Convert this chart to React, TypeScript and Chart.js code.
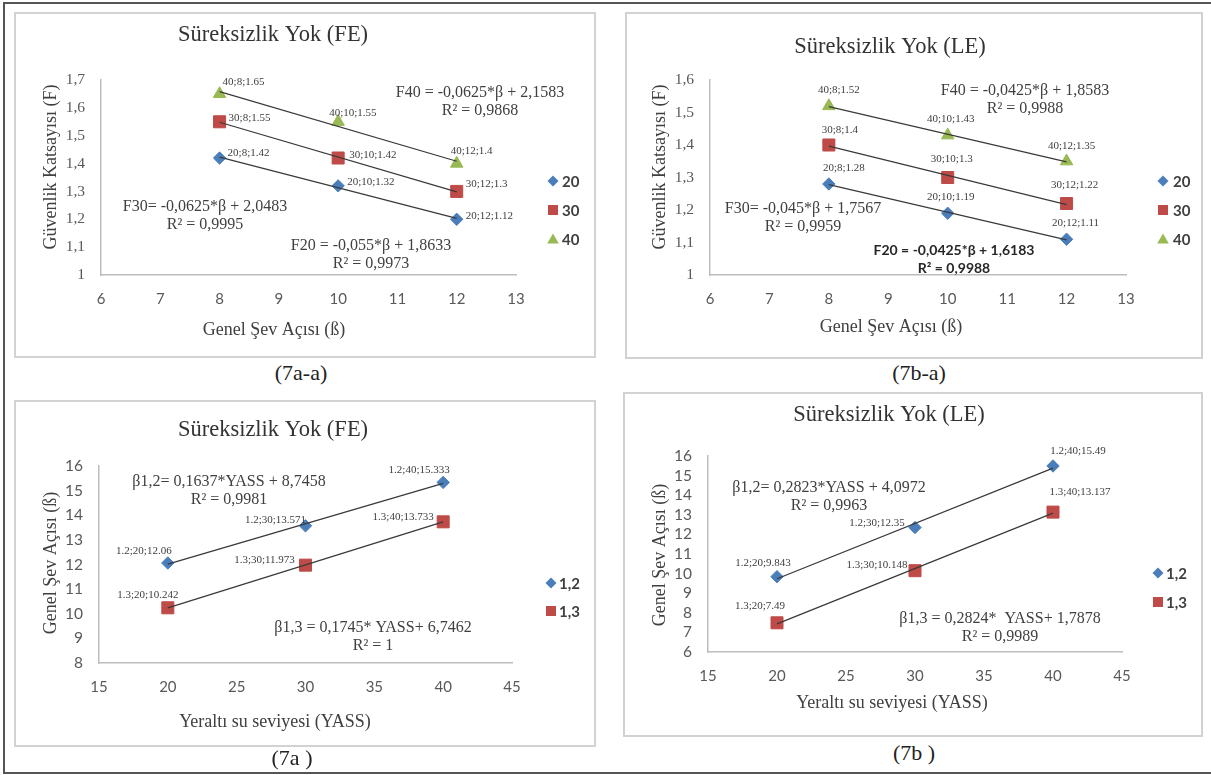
import React, { useEffect, useRef } from "react";
import { Chart, registerables } from "chart.js";

Chart.register(...registerables);

const SERIF = "'Liberation Serif', 'Times New Roman', serif";
const SANS = "Lato, 'Liberation Sans', Arial, sans-serif";

// ---------------- data ----------------
const slopeAngles = [8, 10, 12];
const feSafety20 = [1.42, 1.32, 1.2];
const feSafety30 = [1.55, 1.42, 1.3];
const feSafety40 = [1.65, 1.55, 1.4];
const feSafetyLabels20 = ["20;8;1.42", "20;10;1.32", "20;12;1.12"];
const feSafetyLabels30 = ["30;8;1.55", "30;10;1.42", "30;12;1.3"];
const feSafetyLabels40 = ["40;8;1.65", "40;10;1.55", "40;12;1.4"];

const leSafety20 = [1.28, 1.19, 1.11];
const leSafety30 = [1.4, 1.3, 1.22];
const leSafety40 = [1.52, 1.43, 1.35];
const leSafetyLabels20 = ["20;8;1.28", "20;10;1.19", "20;12;1.11"];
const leSafetyLabels30 = ["30;8;1.4", "30;10;1.3", "30;12;1.22"];
const leSafetyLabels40 = ["40;8;1.52", "40;10;1.43", "40;12;1.35"];

const waterLevels = [20, 30, 40];
const feAngle12 = [12.06, 13.571, 15.333];
const feAngle13 = [10.242, 11.973, 13.733];
const feAngleLabels12 = ["1.2;20;12.06", "1.2;30;13.571", "1.2;40;15.333"];
const feAngleLabels13 = ["1.3;20;10.242", "1.3;30;11.973", "1.3;40;13.733"];
const leAngle12 = [9.843, 12.35, 15.49];
const leAngle13 = [7.49, 10.148, 13.137];
const leAngleLabels12 = ["1.2;20;9.843", "1.2;30;12.35", "1.2;40;15.49"];
const leAngleLabels13 = ["1.3;20;7.49", "1.3;30;10.148", "1.3;40;13.137"];

const groupNamesF = ["20", "30", "40"];
const groupNamesB = ["1,2", "1,3"];

const titleFE = "Süreksizlik Yok (FE)";
const titleLE = "Süreksizlik Yok (LE)";
const xTitleAngle = "Genel Şev Açısı (ß)";
const yTitleSafety = "Güvenlik Katsayısı (F)";
const xTitleWater = "Yeraltı su seviyesi (YASS)";
const yTitleAngle = "Genel Şev Açısı (ß)";

const eqFE = [
  ["F40 = -0,0625*β + 2,1583", "R² = 0,9868"],
  ["F30= -0,0625*β + 2,0483", "R² = 0,9995"],
  ["F20 = -0,055*β + 1,8633", "R² = 0,9973"],
];
const eqLE = [
  ["F40 = -0,0425*β + 1,8583", "R² = 0,9988"],
  ["F30= -0,045*β + 1,7567", "R² = 0,9959"],
  ["F20 = -0,0425*β + 1,6183", "R² = 0,9988"],
];
const eqFEb = [
  ["β1,2= 0,1637*YASS + 8,7458", "R² = 0,9981"],
  ["β1,3 = 0,1745* YASS+ 6,7462", "R² = 1"],
];
const eqLEb = [
  ["β1,2= 0,2823*YASS + 4,0972", "R² = 0,9963"],
  ["β1,3 = 0,2824*  YASS+ 1,7878", "R² = 0,9989"],
];

const captions = ["(7a-a)", "(7b-a)", "(7a )", "(7b )"];

const axisSlope = [6, 13, 1];
const axisSafetyFE = [1, 1.7, 0.1];
const axisSafetyLE = [1, 1.6, 0.1];
const axisWater = [15, 45, 5];
const axisAngleFE = [8, 16, 1];
const axisAngleLE = [6, 16, 1];

// ---------------- styles ----------------
const BLUE = "#4a7ebb";
const RED = "#be4b48";
const GREEN = "#98b954";
const STYLES = [
  { style: "rectRot", color: BLUE, radius: 6.2 },
  { style: "rect", color: RED, radius: 8.5 },
  { style: "triangle", color: GREEN, radius: 7.2 },
];

type Off = [number, number];
type Eq = { lines: string[]; x: number; y: number; bold?: boolean };
type PanelCfg = {
  box: { x: number; y: number; w: number; h: number };
  plot: { l: number; r: number; t: number; b: number };
  xs: number[];
  xAxis: number[];
  yAxis: number[];
  yDec: number;
  yTickFont: string;
  title: string;
  titlePos: Off;
  xTitle: string;
  xTitlePos: Off;
  yTitle: string;
  yTitlePos: Off;
  legend: { markerX: number; textX: number; ys: number[] };
  names: string[];
  values: number[][];
  labels: string[][];
  labelAlign: "left" | "center";
  offsets: Off[][];
  equations: Eq[];
  caption: string;
  captionPos: Off;
};

const panels: PanelCfg[] = [
  {
    box: { x: 14, y: 12, w: 582, h: 346 },
    plot: { l: 101, r: 516, t: 80, b: 275 },
    xs: slopeAngles,
    xAxis: axisSlope,
    yAxis: axisSafetyFE,
    yDec: 1,
    yTickFont: SERIF,
    title: titleFE,
    titlePos: [273, 35],
    xTitle: xTitleAngle,
    xTitlePos: [274, 330],
    yTitle: yTitleSafety,
    yTitlePos: [51, 167],
    legend: { markerX: 553, textX: 562, ys: [181, 210, 239] },
    names: groupNamesF,
    values: [feSafety20, feSafety30, feSafety40],
    labels: [feSafetyLabels20, feSafetyLabels30, feSafetyLabels40],
    labelAlign: "left",
    offsets: [
      [[8, -5], [9, -4], [9, -3]],
      [[9, -4], [11, -3], [9, -7]],
      [[3, -12], [-9, -9], [-6, -12]],
    ],
    equations: [
      { lines: eqFE[0], x: 480, y: 93 },
      { lines: eqFE[1], x: 205, y: 207 },
      { lines: eqFE[2], x: 371, y: 246 },
    ],
    caption: captions[0],
    captionPos: [301, 373],
  },
  {
    box: { x: 625, y: 12, w: 578, h: 347 },
    plot: { l: 710, r: 1126, t: 80, b: 275 },
    xs: slopeAngles,
    xAxis: axisSlope,
    yAxis: axisSafetyLE,
    yDec: 1,
    yTickFont: SERIF,
    title: titleLE,
    titlePos: [890, 47],
    xTitle: xTitleAngle,
    xTitlePos: [891, 327],
    yTitle: yTitleSafety,
    yTitlePos: [660, 167],
    legend: { markerX: 1163, textX: 1173, ys: [181, 210, 239] },
    names: groupNamesF,
    values: [leSafety20, leSafety30, leSafety40],
    labels: [leSafetyLabels20, leSafetyLabels30, leSafetyLabels40],
    labelAlign: "center",
    offsets: [
      [[15, -16], [3, -16], [9, -16]],
      [[11, -15], [4, -18], [8, -18]],
      [[10, -16], [3, -16], [5, -15]],
    ],
    equations: [
      { lines: eqLE[0], x: 1025, y: 91 },
      { lines: eqLE[1], x: 803, y: 209 },
      { lines: eqLE[2], x: 954, y: 250, bold: true },
    ],
    caption: captions[1],
    captionPos: [919, 373],
  },
  {
    box: { x: 14, y: 400, w: 582, h: 347 },
    plot: { l: 99, r: 512, t: 466, b: 663 },
    xs: waterLevels,
    xAxis: axisWater,
    yAxis: axisAngleFE,
    yDec: 0,
    yTickFont: SANS,
    title: titleFE,
    titlePos: [273, 430],
    xTitle: xTitleWater,
    xTitlePos: [275, 722],
    yTitle: yTitleAngle,
    yTitlePos: [51, 563],
    legend: { markerX: 551, textX: 559, ys: [583, 611] },
    names: groupNamesB,
    values: [feAngle12, feAngle13],
    labels: [feAngleLabels12, feAngleLabels13],
    labelAlign: "center",
    offsets: [
      [[-24, -12], [-30, -6], [-24, -12]],
      [[-20, -13], [-41, -5], [-40, -5]],
    ],
    equations: [
      { lines: eqFEb[0], x: 229, y: 482 },
      { lines: eqFEb[1], x: 373, y: 628 },
    ],
    caption: captions[2],
    captionPos: [292, 758],
  },
  {
    box: { x: 623, y: 392, w: 580, h: 345 },
    plot: { l: 708, r: 1122, t: 456, b: 652 },
    xs: waterLevels,
    xAxis: axisWater,
    yAxis: axisAngleLE,
    yDec: 0,
    yTickFont: SANS,
    title: titleLE,
    titlePos: [889, 415],
    xTitle: xTitleWater,
    xTitlePos: [892, 703],
    yTitle: yTitleAngle,
    yTitlePos: [660, 555],
    legend: { markerX: 1158, textX: 1166, ys: [573, 602] },
    names: groupNamesB,
    values: [leAngle12, leAngle13],
    labels: [leAngleLabels12, leAngleLabels13],
    labelAlign: "center",
    offsets: [
      [[-14, -14], [-38, -4], [25, -15]],
      [[-17, -17], [-38, -6], [27, -20]],
    ],
    equations: [
      { lines: eqLEb[0], x: 829, y: 488 },
      { lines: eqLEb[1], x: 1000, y: 619 },
    ],
    caption: captions[3],
    captionPos: [914, 753],
  },
];

function linearFit(xs: number[], ys: number[]) {
  const n = xs.length;
  const mx = xs.reduce((a, b) => a + b, 0) / n;
  const my = ys.reduce((a, b) => a + b, 0) / n;
  let sxy = 0;
  let sxx = 0;
  for (let i = 0; i < n; i++) {
    sxy += (xs[i] - mx) * (ys[i] - my);
    sxx += (xs[i] - mx) * (xs[i] - mx);
  }
  const b = sxy / sxx;
  return { a: my - b * mx, b };
}

function drawMarker(ctx: CanvasRenderingContext2D, style: string, x: number, y: number, color: string) {
  ctx.save();
  ctx.fillStyle = color;
  ctx.beginPath();
  if (style === "rectRot") {
    const r = 5.5;
    ctx.moveTo(x, y - r);
    ctx.lineTo(x + r, y);
    ctx.lineTo(x, y + r);
    ctx.lineTo(x - r, y);
    ctx.closePath();
  } else if (style === "rect") {
    const s = 10;
    ctx.rect(x - s / 2, y - s / 2, s, s);
  } else {
    ctx.moveTo(x, y - 5.5);
    ctx.lineTo(x + 5.8, y + 4.5);
    ctx.lineTo(x - 5.8, y + 4.5);
    ctx.closePath();
  }
  ctx.fill();
  ctx.restore();
}

function makeTextPlugin(p: PanelCfg) {
  const ox = p.box.x;
  const oy = p.box.y;
  return {
    id: "panelText",
    afterDraw(chart: any) {
      const ctx: CanvasRenderingContext2D = chart.ctx;
      ctx.save();
      ctx.textAlign = "center";
      ctx.textBaseline = "middle";
      // title
      ctx.fillStyle = "#333333";
      ctx.font = `22.5px ${SERIF}`;
      ctx.fillText(p.title, p.titlePos[0] - ox, p.titlePos[1] - oy);
      // axis titles
      ctx.fillStyle = "#404040";
      ctx.font = `18px ${SERIF}`;
      ctx.fillText(p.xTitle, p.xTitlePos[0] - ox, p.xTitlePos[1] - oy);
      ctx.save();
      ctx.translate(p.yTitlePos[0] - ox, p.yTitlePos[1] - oy);
      ctx.rotate(-Math.PI / 2);
      ctx.fillText(p.yTitle, 0, 0);
      ctx.restore();
      // legend
      p.names.forEach((name, i) => {
        const y = p.legend.ys[i] - oy;
        drawMarker(ctx, STYLES[i].style, p.legend.markerX - ox, y, STYLES[i].color);
        ctx.fillStyle = "#404040";
        ctx.font = `bold 15px ${SANS}`;
        ctx.textAlign = "left";
        ctx.fillText(name, p.legend.textX - ox, y + 1);
      });
      // equations
      ctx.textAlign = "center";
      p.equations.forEach((eq) => {
        if (eq.bold) {
          ctx.font = `bold 14px ${SANS}`;
          ctx.fillStyle = "#262626";
        } else {
          ctx.font = `16px ${SERIF}`;
          ctx.fillStyle = "#404040";
        }
        eq.lines.forEach((line, k) => {
          ctx.fillText(line, eq.x - ox, eq.y - oy + k * 18);
        });
      });
      // data labels
      ctx.font = `11px ${SERIF}`;
      ctx.fillStyle = "#404040";
      ctx.textAlign = p.labelAlign;
      p.labels.forEach((labs, i) => {
        const meta = chart.getDatasetMeta(i);
        labs.forEach((lab, j) => {
          const el = meta.data[j];
          if (!el) return;
          const [dx, dy] = p.offsets[i][j];
          ctx.fillText(lab, el.x + dx, el.y + dy);
        });
      });
      ctx.restore();
    },
  };
}

const YW = 50;
const XH = 40;

function Panel({ p }: { p: PanelCfg }) {
  const ref = useRef<HTMLCanvasElement>(null);
  useEffect(() => {
    if (!ref.current) return;
    const datasets: any[] = [];
    p.values.forEach((vals, i) => {
      datasets.push({
        type: "scatter",
        label: p.names[i],
        data: vals.map((v, j) => ({ x: p.xs[j], y: v })),
        pointStyle: STYLES[i].style,
        pointRadius: STYLES[i].radius,
        pointHoverRadius: STYLES[i].radius,
        backgroundColor: STYLES[i].color,
        borderColor: STYLES[i].color,
        borderWidth: 1,
        order: 1,
      });
    });
    p.values.forEach((vals, i) => {
      const fit = linearFit(p.xs, vals);
      const x0 = p.xs[0];
      const x1 = p.xs[p.xs.length - 1];
      datasets.push({
        type: "scatter",
        label: p.names[i] + " trend",
        data: [
          { x: x0, y: fit.a + fit.b * x0 },
          { x: x1, y: fit.a + fit.b * x1 },
        ],
        showLine: true,
        pointRadius: 0,
        borderColor: "#3a3a3a",
        borderWidth: 1.3,
        backgroundColor: "#3a3a3a",
        order: 0,
      });
    });
    const fmtY = (v: number) => {
      const s = p.yDec ? (Math.round(v * 10) / 10).toString() : Math.round(v).toString();
      return s.replace(".", ",");
    };
    const chart = new Chart(ref.current, {
      type: "scatter",
      data: { datasets },
      options: {
        animation: false,
        responsive: false,
        devicePixelRatio: 1,
        events: [],
        layout: {
          padding: {
            left: p.plot.l - p.box.x - YW,
            right: p.box.x + p.box.w - p.plot.r,
            top: p.plot.t - p.box.y,
            bottom: p.box.y + p.box.h - p.plot.b - XH,
          },
        },
        plugins: {
          legend: { display: false },
          title: { display: false },
          tooltip: { enabled: false },
        },
        scales: {
          x: {
            type: "linear",
            min: p.xAxis[0],
            max: p.xAxis[1],
            ticks: {
              stepSize: p.xAxis[2],
              autoSkip: false,
              maxRotation: 0,
              padding: 15,
              color: "#595959",
              font: { family: SANS, size: 15 },
              callback: (v: any) => String(v),
            },
            grid: { display: false, drawTicks: false },
            border: { display: true, color: "#bdbdbd", width: 1.5 },
            afterFit: (s: any) => {
              s.height = XH;
            },
          },
          y: {
            type: "linear",
            min: p.yAxis[0],
            max: p.yAxis[1],
            ticks: {
              stepSize: p.yAxis[2],
              autoSkip: false,
              padding: 16,
              color: "#595959",
              font: { family: p.yTickFont, size: 15.5 },
              callback: (v: any) => fmtY(Number(v)),
            },
            grid: { display: false, drawTicks: false },
            border: { display: true, color: "#bdbdbd", width: 1.5 },
            afterFit: (s: any) => {
              s.width = YW;
            },
          },
        },
      } as any,
      plugins: [makeTextPlugin(p)],
    });
    return () => chart.destroy();
  }, [p]);

  return (
    <>
      <canvas
        ref={ref}
        width={p.box.w}
        height={p.box.h}
        style={{ position: "absolute", left: p.box.x, top: p.box.y, width: p.box.w, height: p.box.h }}
      />
      <div
        style={{
          position: "absolute",
          left: p.box.x,
          top: p.box.y,
          width: p.box.w,
          height: p.box.h,
          border: "2px solid #d2d2d2",
          boxSizing: "border-box",
          pointerEvents: "none",
        }}
      />
      <div
        style={{
          position: "absolute",
          left: p.captionPos[0],
          top: p.captionPos[1],
          transform: "translate(-50%, -50%)",
          fontFamily: SERIF,
          fontSize: 22,
          color: "#222",
          whiteSpace: "pre",
          lineHeight: 1,
        }}
      >
        {p.caption}
      </div>
    </>
  );
}

export default function App() {
  return (
    <div
      style={{
        position: "absolute",
        left: 0,
        top: 0,
        width: 1211,
        height: 775,
        overflow: "hidden",
        background: "#ffffff",
      }}
    >
      <div
        style={{
          position: "absolute",
          left: 3,
          top: 2,
          width: 1215,
          height: 772,
          border: "2px solid #555",
          boxSizing: "border-box",
        }}
      />
      {panels.map((p, i) => (
        <Panel key={i} p={p} />
      ))}
    </div>
  );
}
